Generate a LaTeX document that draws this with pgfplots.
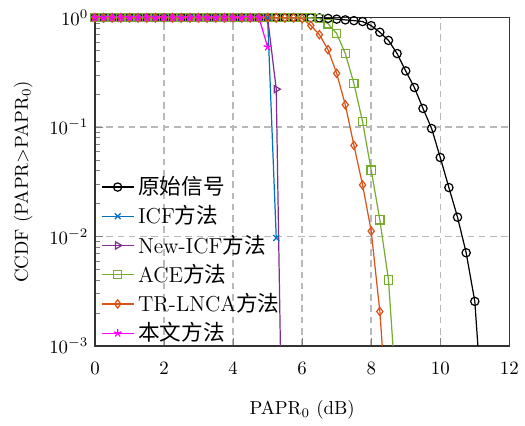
\documentclass[border=0pt]{standalone}
\usepackage{pgfplots}
\pgfplotsset{compat=1.18}
\usepackage{fontspec}
\newfontfamily\cjk{Noto Sans CJK SC}
\definecolor{cblue}{RGB}{0,114,189}
\definecolor{cpurple}{RGB}{126,47,142}
\definecolor{cgreen}{RGB}{119,172,48}
\definecolor{corange}{RGB}{217,83,25}
\definecolor{cmag}{RGB}{255,0,255}

\begin{document}
\begin{tikzpicture}
\begin{axis}[
  width=7.74cm, height=6.13cm, scale only axis,
  ymode=log,
  xmin=0, xmax=12, ymin=1e-3, ymax=1,
  xtick={0,2,...,12},
  ytick={1e-3,1e-2,1e-1,1},
  xtick pos=bottom, ytick pos=left,
  tick align=inside,
  xticklabel style={yshift=-5pt},
  grid=major,
  major grid style={gray!55, dash pattern=on 3.5pt off 2.5pt, line width=0.8pt},
  axis line style={black!80, line width=0.8pt},
  xlabel={PAPR$_0$ (dB)},
  xlabel style={yshift=-7pt},
  ylabel={CCDF (PAPR$>$PAPR$_0$)},
  ylabel style={yshift=2pt},
  legend style={draw=none, fill=none, at={(0.0,0.54)}, anchor=north west,
    font=\fontsize{11.5pt}{13pt}\selectfont, row sep=0.3pt},
  legend cell align=left,
  every axis plot/.append style={line width=0.65pt},
  mark size=2.2pt,
]
% 原始信号
\addplot[black, mark=o] coordinates {
(0,1)(0.25,1)(0.5,1)(0.75,1)(1,1)(1.25,1)(1.5,1)(1.75,1)(2,1)(2.25,1)(2.5,1)(2.75,1)
(3,1)(3.25,1)(3.5,1)(3.75,1)(4,1)(4.25,1)(4.5,1)(4.75,1)(5,1)(5.25,1)(5.5,1)(5.75,1)
(6,1)(6.25,0.998)(6.5,0.995)(6.75,0.985)(7,0.97)(7.25,0.955)(7.5,0.94)(7.75,0.922)
(8,0.846)(8.25,0.736)(8.5,0.62)(8.75,0.47)(9,0.326)(9.25,0.23)(9.5,0.148)(9.75,0.097)
(10,0.0527)(10.25,0.028)(10.5,0.015)(10.75,0.0071)(11,0.00255)};
\addlegendentry{{\cjk 原始信号}}
% ICF
\addplot[cblue, mark=x] coordinates {
(0,1)(0.25,1)(0.5,1)(0.75,1)(1,1)(1.25,1)(1.5,1)(1.75,1)(2,1)(2.25,1)(2.5,1)(2.75,1)
(3,1)(3.25,1)(3.5,1)(3.75,1)(4,1)(4.25,1)(4.5,1)(4.75,1)(5,1)(5.25,0.0097)};
\addlegendentry{ICF{\cjk 方法}}
% New-ICF
\addplot[cpurple, mark=triangle, every mark/.append style={rotate=-90}] coordinates {
(0,1)(0.25,1)(0.5,1)(0.75,1)(1,1)(1.25,1)(1.5,1)(1.75,1)(2,1)(2.25,1)(2.5,1)(2.75,1)
(3,1)(3.25,1)(3.5,1)(3.75,1)(4,1)(4.25,1)(4.5,1)(4.75,1)(5,1)(5.25,0.222)};
\addlegendentry{New-ICF{\cjk 方法}}
% ACE
\addplot[cgreen, mark=square] coordinates {
(0,1)(0.25,1)(0.5,1)(0.75,1)(1,1)(1.25,1)(1.5,1)(1.75,1)(2,1)(2.25,1)(2.5,1)(2.75,1)
(3,1)(3.25,1)(3.5,1)(3.75,1)(4,1)(4.25,1)(4.5,1)(4.75,1)(5,1)(5.25,1)(5.5,1)(5.75,1)
(6,1)(6.25,1)(6.5,0.98)(6.75,0.88)(7,0.716)(7.25,0.47)(7.5,0.25)(7.75,0.112)
(8,0.0404)(8.25,0.0142)(8.5,0.004)};
\addlegendentry{ACE{\cjk 方法}}
% TR-LNCA
\addplot[corange, mark=diamond] coordinates {
(0,1)(0.25,1)(0.5,1)(0.75,1)(1,1)(1.25,1)(1.5,1)(1.75,1)(2,1)(2.25,1)(2.5,1)(2.75,1)
(3,1)(3.25,1)(3.5,1)(3.75,1)(4,1)(4.25,1)(4.5,1)(4.75,1)(5,1)(5.25,1)(5.5,1)(5.75,1)
(6,0.98)(6.25,0.85)(6.5,0.70)(6.75,0.51)(7,0.31)(7.25,0.16)(7.5,0.068)(7.75,0.0296)
(8,0.0112)(8.25,0.00206)};
\addlegendentry{TR-LNCA{\cjk 方法}}
% 本文方法
\addplot[cmag, mark=star] coordinates {
(0,1)(0.25,1)(0.5,1)(0.75,1)(1,1)(1.25,1)(1.5,1)(1.75,1)(2,1)(2.25,1)(2.5,1)(2.75,1)
(3,1)(3.25,1)(3.5,1)(3.75,1)(4,1)(4.25,1)(4.5,1)(4.75,1)(5,0.54)};
\addlegendentry{{\cjk 本文方法}}
% tails down to the lower edge (no marks)
\addplot[black, forget plot] coordinates {(11,0.00255)(11.09,0.001)};
\addplot[cpurple, forget plot] coordinates {(5.25,0.222)(5.37,0.001)};
\addplot[cgreen, forget plot] coordinates {(8.5,0.004)(8.63,0.001)};
\addplot[corange, forget plot] coordinates {(8.25,0.00206)(8.32,0.001)};
\end{axis}
\path ([xshift=-4pt,yshift=2pt]current bounding box.north west);
\end{tikzpicture}
\end{document}
